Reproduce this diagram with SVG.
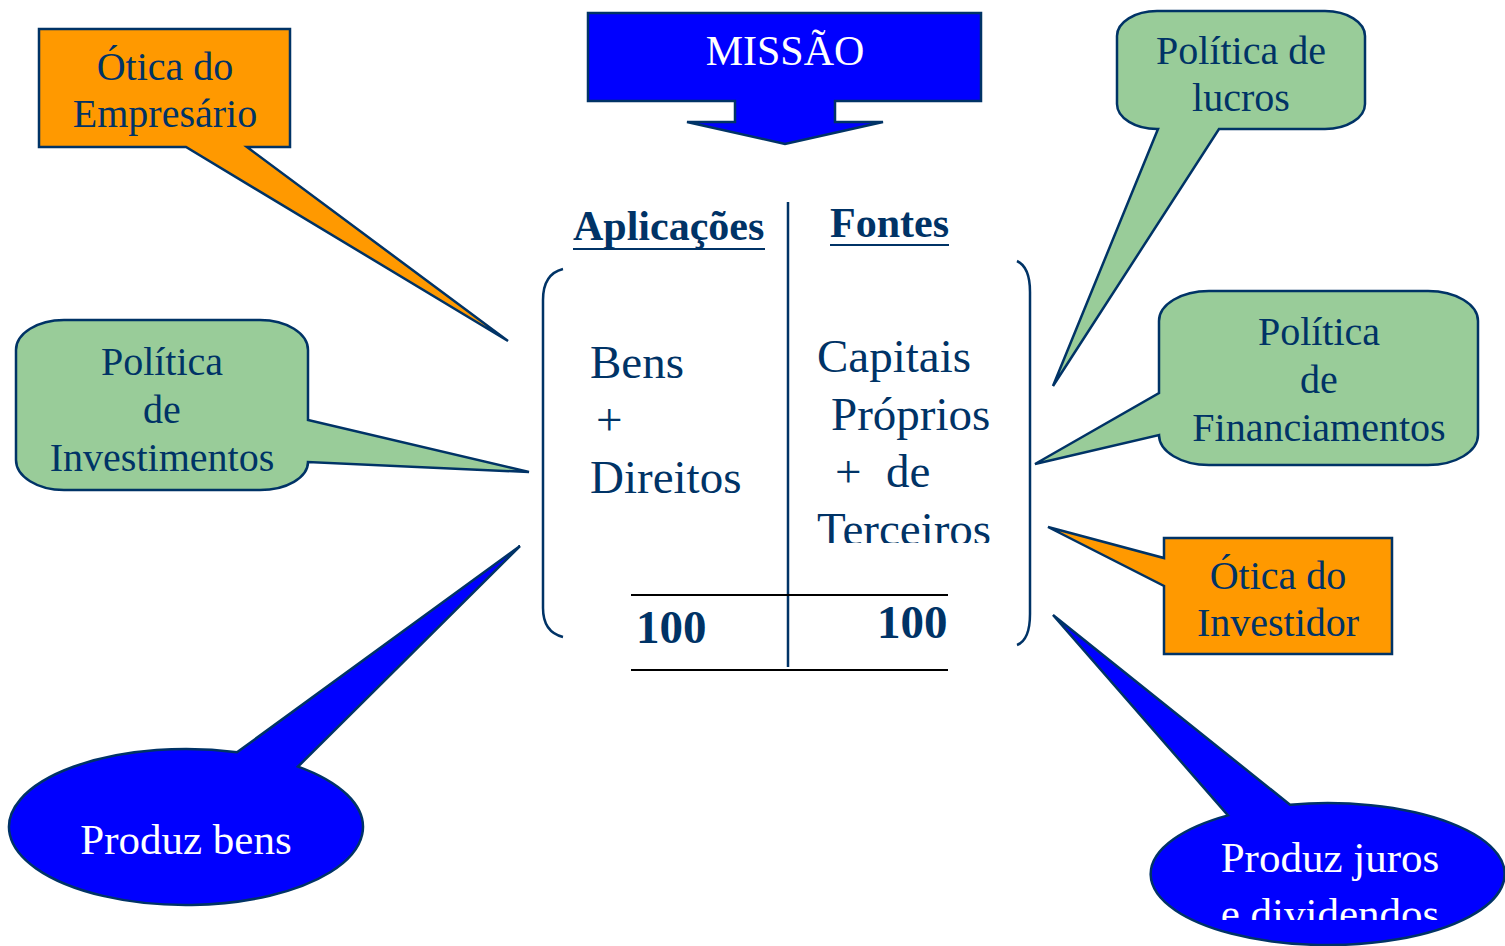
<svg xmlns="http://www.w3.org/2000/svg" width="1505" height="946" viewBox="0 0 1505 946">
<defs>
<style>
.t{font-family:"Liberation Serif","Times New Roman",serif;fill:#003366;font-size:40px}
.c{text-anchor:middle}
.w{fill:#ffffff}
.b{font-weight:bold}
.big{font-size:47px}
.f42{font-size:42px}
.f43{font-size:43px}
.orange{fill:#FF9900;stroke:#003366;stroke-width:2.5}
.green{fill:#99CC99;stroke:#003366;stroke-width:2.5}
.blue{fill:#0000FF;stroke:#003366;stroke-width:2.5}
.ln{fill:none;stroke:#003366;stroke-width:2.5}
.blk{fill:none;stroke:#000000;stroke-width:2}
</style>
<clipPath id="clipTerc"><rect x="800" y="500" width="230" height="43"/></clipPath>
<clipPath id="clipDiv"><rect x="1150" y="880" width="355" height="40"/></clipPath>
</defs>
<rect width="1505" height="946" fill="#ffffff"/>

<g id="missao">
<path class="blue" d="M588,13 H981 V101 H835 V122 H883 L785,144 L687,122 H735 V101 H588 Z"/>
<text class="t w c f42" x="785" y="65">MISSÃO</text>
</g>

<g id="otica-empresario">
<path class="orange" d="M39,29 H290 V147 H247 L508,341 L186,147 H39 Z"/>
<text class="t c" x="165" y="80">Ótica do</text>
<text class="t c" x="165" y="127">Empresário</text>
</g>

<g id="politica-investimentos">
<path class="green" d="M64,320 H260 A48,30 0 0 1 308,350 V420 L529,472 L308,462 A48,28 0 0 1 260,490 H64 A48,30 0 0 1 16,460 V350 A48,30 0 0 1 64,320 Z"/>
<text class="t c" x="162" y="375">Política</text>
<text class="t c" x="162" y="423">de</text>
<text class="t c" x="162" y="471">Investimentos</text>
</g>

<g id="produz-bens">
<path class="blue" d="M237,752.3 L520,546 L298,766.6 A177,78 0 1 1 237,752.3 Z"/>
<text class="t w c f43" x="186" y="854">Produz bens</text>
</g>

<g id="politica-lucros">
<path class="green" d="M1157,11 H1325 A40,25 0 0 1 1365,36 V104 A40,25 0 0 1 1325,129 H1219 L1053,386 L1158,129 A40,25 0 0 1 1117,104 V36 A40,25 0 0 1 1157,11 Z"/>
<text class="t c" x="1241" y="64">Política de</text>
<text class="t c" x="1241" y="111">lucros</text>
</g>

<g id="politica-financiamentos">
<path class="green" d="M1209,291 H1428 A50,30 0 0 1 1478,321 V435 A50,30 0 0 1 1428,465 H1209 A50,30 0 0 1 1159,435 L1035,464 L1159,393 V321 A50,30 0 0 1 1209,291 Z"/>
<text class="t c" x="1319" y="345">Política</text>
<text class="t c" x="1319" y="393">de</text>
<text class="t c" x="1319" y="441">Financiamentos</text>
</g>

<g id="otica-investidor">
<path class="orange" d="M1164,538 H1392 V654 H1164 V586 L1048,527 L1164,558 Z"/>
<text class="t c" x="1278" y="589">Ótica do</text>
<text class="t c" x="1278" y="636">Investidor</text>
</g>

<g id="produz-juros">
<path class="blue" d="M1228,815.4 L1053,615 L1290,804.7 A177,71 0 1 1 1228,815.4 Z"/>
<text class="t w c f43" x="1330" y="872">Produz juros</text>
<text class="t w c f43" x="1330" y="928" clip-path="url(#clipDiv)">e dividendos</text>
</g>

<g id="balanco">
<path class="ln" d="M563,269 Q543,274 543,300 V608 Q543,632 563,637"/>
<path class="ln" d="M1017,261 Q1030,267 1030,292 V614 Q1030,640 1017,645"/>
<line class="ln" x1="788" y1="202" x2="788" y2="667"/>
<line class="blk" x1="631" y1="595" x2="948" y2="595"/>
<line class="blk" x1="631" y1="670" x2="948" y2="670"/>
<text class="t b f42" x="573" y="240">Aplicações</text>
<line x1="573" y1="249" x2="765" y2="249" stroke="#003366" stroke-width="2"/>
<text class="t b f42" x="830" y="237">Fontes</text>
<line x1="830" y1="245" x2="949" y2="245" stroke="#003366" stroke-width="2"/>
<text class="t big" x="590" y="378">Bens</text>
<text class="t big" x="596" y="435">+</text>
<text class="t big" x="590" y="493">Direitos</text>
<text class="t big" x="817" y="372">Capitais</text>
<text class="t big" x="831" y="430">Próprios</text>
<text class="t big" x="835" y="487">+<tspan x="886">de</tspan></text>
<text class="t big" x="817" y="545" clip-path="url(#clipTerc)">Terceiros</text>
<text class="t big b" x="636" y="643">100</text>
<text class="t big b" x="877" y="638">100</text>
</g>
</svg>
